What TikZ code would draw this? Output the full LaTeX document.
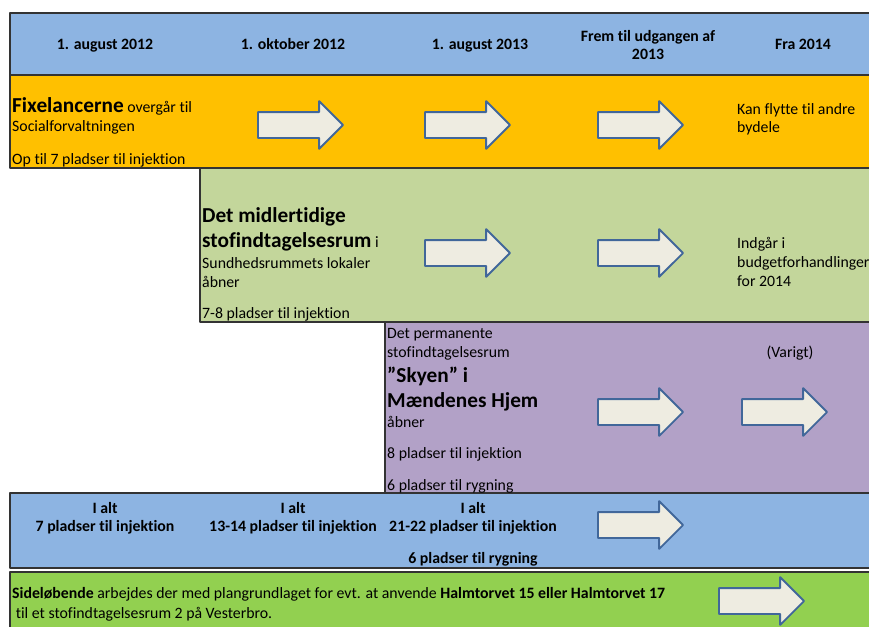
\documentclass[tikz,border=0pt]{standalone}
\usepackage{fontspec}
\setmainfont{Carlito}[Ligatures=NoCommon]
\usepackage{tikz}
\usetikzlibrary{shapes.arrows}
\definecolor{hdrblue}{HTML}{8DB4E2}
\definecolor{roworange}{HTML}{FFC000}
\definecolor{rowgreen}{HTML}{C3D69B}
\definecolor{rowpurple}{HTML}{B2A1C7}
\definecolor{rowlime}{HTML}{92D050}
\definecolor{pilfill}{HTML}{EEECE1}
\definecolor{pilline}{HTML}{41679A}
\definecolor{ramme}{HTML}{333333}
\newcommand{\nrm}{\fontsize{15.8}{18}\selectfont}
\newcommand{\storb}{\fontsize{21.3}{24}\selectfont\bfseries}

\begin{document}
\begin{tikzpicture}[line cap=round,line join=round,x=1pt,y=-1pt,
  fase/.style={draw=ramme,line width=1.3pt},
  pil/.style={single arrow,draw=pilline,fill=pilfill,line width=1.8pt,
    minimum width=46pt,minimum height=85pt,single arrow head extend=11pt,
    inner xsep=0pt,inner ysep=12pt,outer sep=0pt,anchor=west},
  txt/.style={anchor=base west,inner sep=0pt,font=\nrm},
  hdr/.style={anchor=base,inner sep=0pt,font=\nrm\bfseries,align=center},
  sum/.style={anchor=base,inner sep=0pt,font=\nrm\bfseries}]
\useasboundingbox (0,0) rectangle (869,626);
\clip (0,0) rectangle (869,626);
\draw[fase,fill=hdrblue] (10,13) rectangle (880,75);
\draw[fase,fill=roworange] (10,75) rectangle (880,168);
\draw[fase,fill=rowgreen] (200,168) rectangle (880,322);
\draw[fase,fill=rowpurple] (385,322) rectangle (880,493);
\draw[fase,fill=hdrblue] (10,493) rectangle (880,568);
\draw[fase,fill=rowlime] (10,572) rectangle (880,640);

\node[hdr] (d1) at (105,50) {1. august 2012};
\node[hdr] (d2) at (293,50) {1. oktober 2012};
\node[hdr] (d3) at (480,50) {1. august 2013};
\node[hdr,anchor=center] (d4) at (648,45) {Frem til udgangen af\\2013};
\node[hdr] (d5) at (803,50) {Fra 2014};

\node[txt] (fix1) at (12,112) {{\storb Fixelancerne} overgår til};
\node[txt] (fix2) at (12,131) {Socialforvaltningen};
\node[txt] (fix3) at (12,164) {Op til 7 pladser til injektion};
\node[txt] (fix4) at (737,114) {Kan flytte til andre};
\node[txt] (fix5) at (737,132) {bydele};

\node[txt] (mid1) at (202,222) {\storb Det midlertidige};
\node[txt] (mid2) at (202,247) {{\storb stofindtagelsesrum} i};
\node[txt] (mid3) at (202,268) {Sundhedsrummets lokaler};
\node[txt] (mid4) at (202,287) {åbner};
\node[txt] (mid5) at (202,318) {7-8 pladser til injektion};
\node[txt] (mid6) at (737,248) {Indgår i};
\node[txt] (mid7) at (737,267) {budgetforhandlinger};
\node[txt] (mid8) at (737,286) {for 2014};

\node[txt] (sky1) at (387,338) {Det permanente};
\node[txt] (sky2) at (387,357) {stofindtagelsesrum};
\node[txt] (sky3) at (387,382) {\storb ”Skyen” i};
\node[txt] (sky4) at (387,407) {\storb Mændenes Hjem};
\node[txt] (sky5) at (387,427) {åbner};
\node[txt] (sky6) at (387,458) {8 pladser til injektion};
\node[txt] (sky7) at (387,490) {6 pladser til rygning};
\node[sum,font=\nrm] (sky8) at (790,357) {(Varigt)};

\node[sum] (alt1) at (105,513) {I alt};
\node[sum] (alt2) at (105,531) {7 pladser til injektion};
\node[sum] (alt3) at (293,513) {I alt};
\node[sum] (alt4) at (293,531) {13-14 pladser til injektion};
\node[sum] (alt5) at (473,513) {I alt};
\node[sum] (alt6) at (473,531) {21-22 pladser til injektion};
\node[sum] (alt7) at (473,563) {6 pladser til rygning};

\node[txt] (side1) at (12,598) {\textbf{Sideløbende} arbejdes der med plangrundlaget for evt. at anvende \textbf{Halmtorvet 15 eller Halmtorvet 17}};
\node[txt] (side2) at (12,618) {\ til et stofindtagelsesrum 2 på Vesterbro.};

\foreach \px/\py [count=\i] in {258/125,425/125,598/125,425/253,598/253,
    598/412,742/412,598/525,719/601}
  \node[pil] (p\i) at (\px,\py) {};
\end{tikzpicture}
\end{document}
